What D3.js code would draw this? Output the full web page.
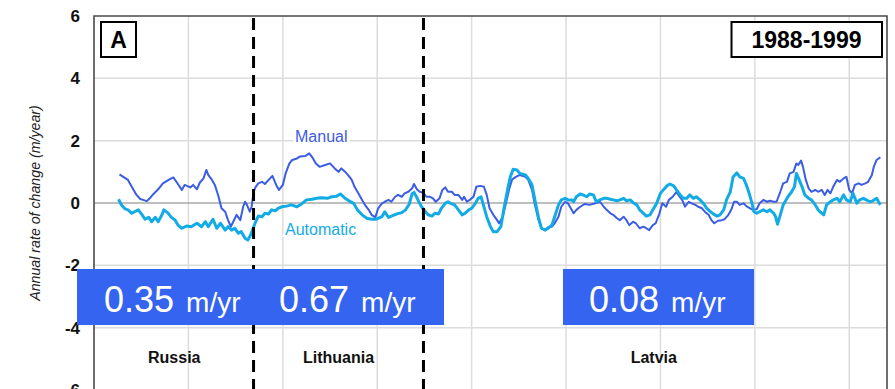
<!DOCTYPE html>
<html>
<head>
<meta charset="utf-8">
<script src="https://cdn.jsdelivr.net/npm/d3@7"></script>
<style>
html,body{margin:0;padding:0;background:#fff;}
svg{display:block;font-family:"Liberation Sans",Arial,Helvetica,sans-serif;}
</style>
</head>
<body>
<svg id="chart" width="895" height="389"></svg>
<script>
// ---- data ----
const yTicks = [-6, -4, -2, 0, 2, 4, 6];
const xGrid = [100, 200, 300, 400, 500, 600, 700, 800];
const borders = [169, 349];
const countries = ["Russia", "Lithuania", "Latvia"];
const countryPos = [85, 259, 593];
const rateGroups = [["0.35", "0.67"], ["0.08"]];

const manualDist = [27,31,36,40,45,49,52,56,59,63,68,73,79,84,88,93,96,102,105,109,112,116,119,121,125,128,132,135,139,142,145,148,151,155,158,160,162,165,167,169,171,174,178,181,185,189,193,196,200,203,207,210,215,218,224,228,232,235,239,245,250,255,259,262,266,269,273,276,280,284,287,291,294,298,301,305,308,312,315,319,322,326,329,333,337,339,342,345,349,352,356,359,362,366,369,372,375,379,382,386,390,392,395,398,402,405,409,413,416,419,423,427,429,433,436,440,443,447,451,457,460,464,467,471,474,478,481,485,488,492,495,499,502,506,508,511,515,520,525,531,536,540,543,547,550,554,557,561,564,567,571,574,578,582,585,588,592,595,599,602,606,609,613,617,619,623,626,630,633,637,640,644,647,651,654,657,661,665,668,672,675,678,681,684,688,691,695,698,702,705,709,713,716,720,723,727,730,734,737,741,744,746,749,751,754,757,760,764,767,771,774,777,780,783,787,790,794,797,800,803,806,810,813,817,820,824,826,829,833];
const manualRate = [0.92,0.84,0.74,0.52,0.26,0.13,0.10,0.06,0.15,0.29,0.44,0.63,0.74,0.82,0.65,0.42,0.58,0.50,0.58,0.44,0.65,0.79,1.06,0.90,0.74,0.58,0.20,-0.17,-0.28,-0.55,-0.76,-0.57,-0.38,-0.55,-0.12,0.04,-0.06,-0.28,-0.12,0.36,0.50,0.63,0.68,0.61,0.74,0.87,0.58,0.42,0.58,0.95,1.27,1.38,1.43,1.49,1.51,1.59,1.43,1.27,1.16,1.22,1.27,1.11,1.00,1.11,1.00,0.90,0.74,0.52,0.31,0.10,-0.06,-0.22,-0.38,-0.46,-0.17,-0.01,0.04,0.10,0.04,0.20,0.26,0.20,0.31,0.36,0.47,0.61,0.44,0.36,0.33,0.20,0.20,0.15,0.04,0.15,0.42,0.50,0.36,0.36,0.26,0.26,0.10,0.20,0.04,0.10,0.20,0.52,0.55,0.52,0.26,-0.17,-0.38,-0.55,-0.65,-0.44,-0.06,0.47,0.76,0.84,0.90,0.84,0.74,0.42,-0.06,-0.55,-0.81,-0.87,-0.78,-0.76,-0.65,-0.44,-0.12,0.04,-0.01,-0.22,-0.33,-0.22,-0.12,-0.03,-0.06,-0.01,0.04,-0.12,-0.22,-0.33,-0.38,-0.49,-0.55,-0.44,-0.55,-0.71,-0.60,-0.65,-0.81,-0.76,-0.81,-0.87,-0.71,-0.65,-0.33,-0.01,-0.12,0.10,0.20,0.36,0.26,0.10,-0.12,0.04,-0.01,-0.06,-0.12,-0.17,-0.28,-0.38,-0.55,-0.65,-0.57,-0.55,-0.52,-0.38,-0.22,0.04,0.04,-0.06,-0.01,-0.10,-0.17,-0.22,-0.20,-0.01,0.10,0.04,0.07,0.04,0.04,0.36,0.63,0.68,0.95,1.00,1.27,1.22,1.36,1.16,0.74,0.47,0.36,0.42,0.36,0.42,0.26,0.42,0.31,0.52,0.74,0.68,0.79,0.84,0.42,0.31,0.58,0.63,0.58,0.63,0.68,0.90,1.16,1.38,1.47];

const autoDist = [26,29,33,36,40,43,47,51,54,58,61,65,68,72,74,78,82,86,89,93,98,103,109,114,118,121,126,130,134,139,142,146,149,153,156,160,163,166,171,174,178,181,185,188,192,195,199,204,209,215,220,225,231,236,241,247,252,257,261,266,270,275,279,284,289,294,299,305,308,312,315,321,326,330,334,337,339,342,344,347,351,354,358,361,365,368,372,375,379,382,386,390,393,397,400,404,407,410,412,416,420,423,427,431,434,438,441,444,448,451,457,460,464,467,471,474,478,481,485,488,492,495,499,502,506,508,511,515,518,522,525,529,532,536,540,543,547,550,554,557,561,564,568,571,575,578,582,585,589,592,596,600,603,607,610,614,617,621,624,628,631,635,638,642,646,649,653,656,660,663,667,670,674,677,679,681,684,688,691,694,697,699,702,705,709,713,716,720,722,724,727,730,732,735,739,742,744,747,750,753,757,760,764,767,771,773,776,780,783,787,790,794,797,801,804,808,811,815,818,822,825,829,831,833];
const autoRate = [0.12,-0.06,-0.19,-0.22,-0.33,-0.28,-0.22,-0.38,-0.52,-0.46,-0.60,-0.46,-0.60,-0.38,-0.22,-0.31,-0.46,-0.55,-0.71,-0.81,-0.74,-0.76,-0.65,-0.76,-0.60,-0.76,-0.52,-0.81,-0.65,-0.87,-0.76,-0.87,-0.81,-0.97,-0.92,-1.13,-1.19,-1.02,-0.62,-0.42,-0.44,-0.33,-0.35,-0.22,-0.25,-0.17,-0.12,-0.10,-0.06,-0.12,-0.03,0.10,0.12,0.15,0.17,0.15,0.20,0.22,0.29,0.15,0.07,-0.01,-0.22,-0.38,-0.49,-0.52,-0.52,-0.44,-0.28,-0.46,-0.42,-0.35,-0.31,-0.22,-0.03,0.30,0.34,0.18,0.04,-0.12,-0.28,-0.38,-0.42,-0.33,-0.35,-0.17,-0.01,0.04,-0.03,-0.06,-0.22,-0.38,-0.33,-0.22,-0.17,-0.01,0.15,0.20,-0.01,-0.44,-0.76,-0.92,-0.92,-0.76,-0.22,0.42,0.84,1.08,1.06,0.95,0.90,0.79,0.58,0.10,-0.49,-0.81,-0.87,-0.81,-0.71,-0.44,-0.06,0.10,0.15,0.10,0.10,0.04,0.20,0.29,0.26,0.20,0.29,0.26,0.04,0.10,0.15,0.15,0.12,0.10,0.07,0.10,0.15,0.07,0.10,0.01,-0.06,-0.22,-0.33,-0.42,-0.38,-0.22,-0.01,0.31,0.42,0.55,0.61,0.55,0.42,0.26,0.15,0.15,0.26,0.15,0.20,0.10,-0.03,-0.17,-0.28,-0.35,-0.42,-0.38,-0.22,0.10,0.36,0.84,0.90,0.97,0.84,0.79,0.58,0.31,-0.01,-0.28,-0.33,-0.28,-0.22,-0.28,-0.22,-0.33,-0.44,-0.68,-0.38,-0.06,0.04,0.20,0.36,0.52,0.95,0.74,0.52,0.26,0.15,0.10,-0.06,-0.22,-0.33,-0.38,-0.06,0.04,0.10,0.15,0.04,0.26,0.10,0.04,0.31,-0.01,0.10,0.15,0.10,0.04,0.07,0.15,0.04,-0.06];

// ---- layout ----
const W = 895, H = 389;
const svg = d3.select("#chart");
const x = d3.scaleLinear().domain([0, 840]).range([94, 887]);
const y = d3.scaleLinear().domain([-6, 6]).range([390, 16]);

const manualColor = "#3b5ce4";
const autoColor = "#12abe6";
const boxBlue = "#3564f0";

// grid
const g = svg.append("g");
g.selectAll("line.vg").data(xGrid).join("line")
  .attr("x1", d => x(d)).attr("x2", d => x(d))
  .attr("y1", y(6)).attr("y2", H)
  .attr("stroke", "#dcdcdc").attr("stroke-width", 1.5);
g.selectAll("line.hg").data(yTicks.filter(v => v !== 0 && v !== 6)).join("line")
  .attr("x1", x(0)).attr("x2", x(840))
  .attr("y1", d => y(d)).attr("y2", d => y(d))
  .attr("stroke", "#dcdcdc").attr("stroke-width", 1.5);
g.append("line").attr("x1", x(0)).attr("x2", x(840))
  .attr("y1", y(0)).attr("y2", y(0))
  .attr("stroke", "#a8a8a8").attr("stroke-width", 1.5);

// frame
svg.append("path")
  .attr("d", `M${x(0)},${H + 5}V${y(6)}H${x(840)}V${H + 5}`)
  .attr("fill", "none").attr("stroke", "#4a4a4a").attr("stroke-width", 1.6);

// y axis labels
svg.selectAll("text.yt").data(yTicks).join("text")
  .attr("x", 80).attr("y", d => y(d)).attr("dy", "0.36em")
  .attr("text-anchor", "end").attr("font-weight", "bold").attr("font-size", 17)
  .attr("fill", "#111").text(d => d);

svg.append("text")
  .attr("transform", `translate(40,${y(0)}) rotate(-90)`)
  .attr("text-anchor", "middle").attr("font-style", "italic").attr("font-size", 14.2)
  .attr("fill", "#222").text("Annual rate of change (m/year)");

// lines
const manualData = manualDist.map((d, i) => [d, manualRate[i]]);
const autoData = autoDist.map((d, i) => [d, autoRate[i]]);
const line = d3.line().x(d => x(d[0])).y(d => y(d[1]));
svg.append("path").datum(manualData).attr("d", line)
  .attr("fill", "none").attr("stroke", manualColor).attr("stroke-width", 2)
  .attr("stroke-linejoin", "round");
svg.append("path").datum(autoData).attr("d", line)
  .attr("fill", "none").attr("stroke", autoColor).attr("stroke-width", 3)
  .attr("stroke-linejoin", "round");

// dashed borders
svg.selectAll("line.border").data(borders).join("line")
  .attr("x1", d => x(d)).attr("x2", d => x(d))
  .attr("y1", y(6) + 2).attr("y2", H)
  .attr("stroke", "#000").attr("stroke-width", 3)
  .attr("stroke-dasharray", "12,7");

// series labels
svg.append("text").attr("x", 295).attr("y", 141.5)
  .attr("font-size", 16).attr("fill", manualColor)
  .attr("stroke", "#fff").attr("stroke-width", 6).attr("paint-order", "stroke")
  .text("Manual");
svg.append("text").attr("x", 285).attr("y", 235)
  .attr("font-size", 16).attr("fill", autoColor)
  .attr("stroke", "#fff").attr("stroke-width", 4).attr("paint-order", "stroke")
  .text("Automatic");

// country labels
svg.selectAll("text.country").data(countries).join("text")
  .attr("x", (d, i) => x(countryPos[i])).attr("y", 363)
  .attr("text-anchor", "middle").attr("font-weight", "bold").attr("font-size", 16)
  .attr("fill", "#111").text(d => d);

// rate boxes
const boxes = [{x0: 77, x1: 444, starts: [104, 279]}, {x0: 563, x1: 754, starts: [589]}];
boxes.forEach((b, bi) => {
  svg.append("rect").attr("x", b.x0).attr("y", 269).attr("width", b.x1 - b.x0).attr("height", 56)
    .attr("fill", boxBlue);
  rateGroups[bi].forEach((val, k) => {
    const t = svg.append("text").attr("x", b.starts[k]).attr("y", 311.5).attr("fill", "#fff");
    t.append("tspan").attr("font-size", 36).text(val);
    t.append("tspan").attr("font-size", 28).attr("dx", 12).text("m/yr");
  });
});

// panel letter box
svg.append("rect").attr("x", 101).attr("y", 22).attr("width", 35).attr("height", 35)
  .attr("fill", "#fff").attr("stroke", "#000").attr("stroke-width", 2);
svg.append("text").attr("x", 118.5).attr("y", 48).attr("text-anchor", "middle")
  .attr("font-weight", "bold").attr("font-size", 23).text("A");

svg.append("rect").attr("x", 731.5).attr("y", 22).attr("width", 150.5).attr("height", 35)
  .attr("fill", "#fff").attr("stroke", "#000").attr("stroke-width", 2);
svg.append("text").attr("x", 806.5).attr("y", 47.5).attr("text-anchor", "middle")
  .attr("font-weight", "bold").attr("font-size", 23).text("1988-1999");
</script>
</body>
</html>
